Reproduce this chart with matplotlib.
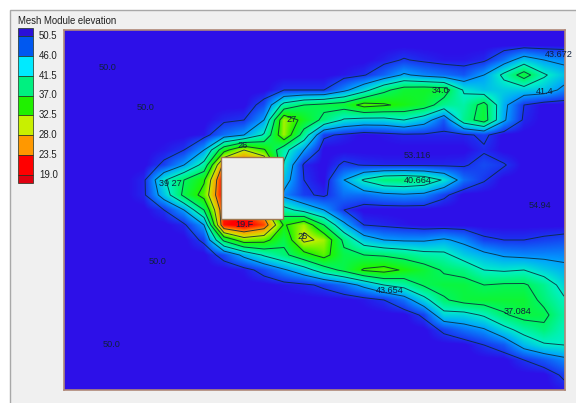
import numpy as np
import matplotlib
matplotlib.use("Agg")
import matplotlib.pyplot as plt
from matplotlib.colors import LinearSegmentedColormap
from matplotlib.patches import Rectangle

W, H = 576, 403
plt.rcParams['font.family'] = ['Liberation Sans', 'DejaVu Sans']

x_grid = np.linspace(64, 564, 26)
y_grid = np.linspace(30, 390, 25)
B = 52
z_rows = [
 [B]*26,
 [B]*26,
 [B]*16 + [51.3,50.3,51,51.5,51.5,51,48,44,46,47],
 [B]*14 + [51.5,50.7,48.5,45.5,47,48,49,46,40.5,35,41,44],
 [B]*11 + [50.5,50.5,50.5,47,43,38,35,34.5,35,42,44,43.5,43.5,44,47],
 [B]*10 + [49.5,40,37,36,35,31,32,33.5,35,39,40,35.5,45,50.5,52,52],
 [B]*8 + [51,50.5,46,29,34,38,42,43,43,41.5,44,49,39,35,45.5,51,52,52],
 [B]*7 + [51.5,48,46,41,29,39,50,51,52,51.5,51,51,51,51,50,52,52,52,52],
 [B]*5 + [51.5,50.5,46,34,28,32,40,46,52,52,52,52,52,52,52,52,50.8,52,52,52,52],
 [B]*5 + [50,46,40,22,20,22,42,51,52,50,50.7,51,51,51,51,50.8,49.5,50.3,52,52,52],
 [B]*4 + [51,42,37,33,18,20,22,44,50.5,52,46,41,38,37.5,38.5,42,48,50.3,52,52,52,52],
 [B]*4 + [51,44,36,31,18,22,26,47,50,51,48,48,47,46.5,47,50,52,52,52,52,52,52],
 [B]*5 + [50.5,46,37,20,20,26,40,43,46,50.5,52,52,52,52,52,52,52,52,52,52,52],
 [B]*6 + [51,46,19.5,18,21,33,29,37,45,50.5,51,51.5,52,52,52,52,52,52,52,52],
 [B]*7 + [50,36,30,31,36,27,29,38,44,46,46.5,46.5,45.5,47,50,50.5,50.5,50,49.5],
 [B]*8 + [49.5,45,41,38,34,31,36,37,37.5,38.5,40,40.5,43.5,45,46.5,47,47,47],
 [B]*9 + [51.5,49.5,46.5,43.5,39,36,32,31,33,35,37.5,38.5,41.5,42,41.5,43.5,45],
 [B]*11 + [51.5,51,50,48,45,41.5,40,36.5,35.5,35.5,37,36.5,36.5,39,43],
 [B]*15 + [51.5,50.5,48,43,37.5,35.5,35,35,35,38,41],
 [B]*18 + [50,43,43,41,37.5,35.5,36,40],
 [B]*19 + [50,48,46.5,43,40,38,41],
 [B]*21 + [50.5,49,44.5,42,41.5],
 [B]*23 + [50.5,49,47],
 [B]*25 + [50],
 [B]*25 + [51.5],
]
contour_levels = [23.5, 28, 32.5, 37, 41.5, 46, 50.5]
legend_labels = ["50.5", "46.0", "41.5", "37.0", "32.5", "28.0", "23.5", "19.0"]
legend_colors = ["#2a10d8", "#0058f0", "#00eaff", "#00f080", "#20f000",
                 "#c8f000", "#ff9800", "#ff0000", "#e00010"]
map_values = [19, 23.5, 28, 32.5, 37, 41.5, 46, 50.5, 51.8, 52]
map_colors = ["#ff0000", "#ff9800", "#c8f000", "#20f500", "#00f560",
              "#00f0c8", "#00a0ff", "#1a34f0", "#2d10e8", "#2d10e8"]
annotations = [("50.0",108,68),("50.0",146,108),("39 27",170,184),("26",243,146),
               ("27",292,120),("53.116",417,156),("43.672",559,55),("41.4",545,92),
               ("34.0",441,91),("40.664",418,181),("19.F",244,225),("25",303,237),
               ("50.0",158,262),("50.0",112,345),("43.654",390,291),("37.084",518,312),
               ("54.94",540,206)]

Z = np.array(z_rows, float)
norm_pos = [(v - 19) / (52 - 19) for v in map_values]
cmap = LinearSegmentedColormap.from_list("elev", list(zip(norm_pos, map_colors)), N=512)

fig = plt.figure(figsize=(W/100, H/100), dpi=100, facecolor="white")

def px_axes(x0, y0, x1, y1, **kw):
    return fig.add_axes([x0/W, 1 - y1/H, (x1-x0)/W, (y1-y0)/H], **kw)

bg = fig.add_axes([0, 0, 1, 1], zorder=0)
bg.set_xlim(0, W); bg.set_ylim(H, 0); bg.axis("off")
bg.add_patch(Rectangle((9.5, 9.5), W, H, fc="#f0f0f0", ec="#a8a8a8", lw=1))
bg.text(18, 20.5, "Mesh Module elevation", fontsize=6.9, color="#202020", va="center", ha="left")

# legend
band_edges = [28, 36, 56, 76, 95.5, 115, 135, 155, 175, 183]
for i, c in enumerate(legend_colors):
    bg.add_patch(Rectangle((18, band_edges[i]), 15, band_edges[i+1]-band_edges[i],
                           fc=c, ec="#203020", lw=0.5))
for lab, yy in zip(legend_labels, band_edges[1:-1]):
    bg.text(39, yy, lab, fontsize=6.9, color="#202020", va="center", ha="left")

ax = px_axes(64, 30, 565, 390, zorder=1)
dx = x_grid[1] - x_grid[0]; dy = y_grid[1] - y_grid[0]
ax.imshow(Z, cmap=cmap, vmin=19, vmax=52, interpolation="bilinear", interpolation_stage="data",
          extent=[x_grid[0]-dx/2, x_grid[-1]+dx/2, y_grid[-1]+dy/2, y_grid[0]-dy/2], aspect="auto")
ax.contour(x_grid, y_grid, Z, levels=contour_levels, colors="#0c2a3a", linewidths=0.7, alpha=0.85)
ax.set_xlim(64, 565); ax.set_ylim(390, 30)
ax.set_xticks([]); ax.set_yticks([])
for s in ax.spines.values():
    s.set_color("#b08878"); s.set_linewidth(1.2)
ax.add_patch(Rectangle((221, 157), 62, 62, fc="#efefef", ec="#a07850", lw=1, zorder=5))
for t, xx, yy in annotations:
    ax.text(xx, yy, t, fontsize=6.6, color="#102040", ha="center", va="center", zorder=6, clip_on=False)

fig.savefig("out.png", dpi=100)
